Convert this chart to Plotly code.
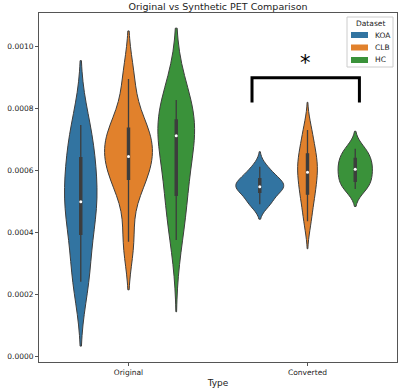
import numpy as np
import plotly.graph_objects as go

# ---------------- data ----------------
categories = ["Original", "Converted"]
datasets = ["KOA", "CLB", "HC"]
palette = ["#3274a1", "#e1812c", "#3a923a"]

original_koa = [0.000240, 0.000285, 0.000429, 0.000470, 0.000499, 0.000560, 0.000625, 0.000690, 0.000747]
original_clb = [0.000369, 0.000545, 0.000580, 0.000640, 0.000645, 0.000690, 0.000734, 0.000745, 0.000896]
original_hc = [0.000375, 0.000470, 0.000500, 0.000526, 0.000620, 0.000690, 0.000712, 0.000730,
               0.000745, 0.000751, 0.000800, 0.000815, 0.000828]
converted_koa = [0.000491, 0.000496, 0.000505, 0.000537, 0.000541, 0.000545, 0.000547, 0.000551,
                 0.000556, 0.000571, 0.000580, 0.000594, 0.000612]
converted_clb = [0.000436, 0.000500, 0.000531, 0.000570, 0.000594, 0.000620, 0.000645, 0.000680, 0.000731]
converted_hc = [0.000540, 0.000552, 0.000569, 0.000588, 0.000604, 0.000618, 0.000634, 0.000655, 0.000670]

# kernel bandwidths (seaborn scott rule)
bandwidth_original = [0.000104, 0.0000775, 0.000116]
bandwidth_converted = [0.0000243, 0.0000446, 0.0000283]

values = {
    "Original": [original_koa, original_clb, original_hc],
    "Converted": [converted_koa, converted_clb, converted_hc],
}
bandwidths = {"Original": bandwidth_original, "Converted": bandwidth_converted}

y_ticks = [0.0, 0.0002, 0.0004, 0.0006, 0.0008, 0.0010]
y_range = [-0.0000194, 0.001109]

# significance bracket
bracket_x = [0.69, 0.69, 1.29, 1.29]
bracket_y = [0.00082, 0.0009, 0.0009, 0.00082]
star_x = 0.99
star_y = 0.000948

# ---------------- figure ----------------
W, H = 400, 391
ML, MR, MT, MB = 39, 3, 13, 29
PW, PH = W - ML - MR, H - MT - MB
VIOLIN_GAP = 0.2
DARK = "#3d3d3d"
FONT = "DejaVu Sans"
TXT = "#222222"


def px2x(px):
    return (px - ML) / PW


def py2y(py):
    return (H - MB - py) / PH


fig = go.Figure()
group_w = (1 - VIOLIN_GAP) / len(datasets)

for i, cat in enumerate(categories):
    for j, ds in enumerate(datasets):
        vals = values[cat][j]
        fig.add_trace(go.Violin(
            x=[i] * len(vals), y=vals, name=ds,
            legendgroup=ds, showlegend=False,
            offsetgroup=ds, alignmentgroup="v",
            scalegroup=cat, scalemode="width",
            bandwidth=bandwidths[cat][j], spanmode="soft",
            fillcolor=palette[j], line=dict(color=DARK, width=1),
            points=False,
            box=dict(visible=True, width=0.045, fillcolor=DARK,
                     line=dict(color=DARK, width=1.3)),
            meanline=dict(visible=False),
            hoveron="violins",
        ))

# white median dots
for i, cat in enumerate(categories):
    xs = [i + (j - 1) * group_w for j in range(len(datasets))]
    ys = [float(np.median(v)) for v in values[cat]]
    fig.add_trace(go.Scatter(x=xs, y=ys, mode="markers", showlegend=False,
                             marker=dict(color="white", size=3), hoverinfo="skip"))

fig.add_trace(go.Scatter(x=bracket_x, y=bracket_y, mode="lines", showlegend=False,
                         line=dict(color="black", width=3), hoverinfo="skip"))
fig.add_annotation(x=star_x, y=star_y, text="*", showarrow=False,
                   font=dict(size=21, color="black", family=FONT),
                   xanchor="center", yanchor="middle")

# legend (matplotlib-style box with patches)
shapes = [dict(type="rect", xref="paper", yref="paper",
               x0=px2x(347), x1=px2x(393), y0=py2y(67), y1=py2y(17),
               line=dict(color="#cccccc", width=1), fillcolor="white", layer="above")]
annotations = [dict(xref="paper", yref="paper", x=px2x(370), y=py2y(23.5), text="Dataset",
                    showarrow=False, xanchor="center", yanchor="middle",
                    font=dict(size=7.5, color=TXT, family=FONT))]
for j, ds in enumerate(datasets):
    cy = 35 + j * 12.5
    shapes.append(dict(type="rect", xref="paper", yref="paper",
                       x0=px2x(351), x1=px2x(368), y0=py2y(cy + 3), y1=py2y(cy - 3),
                       line=dict(width=0), fillcolor=palette[j], layer="above"))
    annotations.append(dict(xref="paper", yref="paper", x=px2x(372.5), y=py2y(cy), text=ds,
                            showarrow=False, xanchor="left", yanchor="middle",
                            font=dict(size=7.5, color=TXT, family=FONT)))
for s in shapes:
    fig.add_shape(**s)
for a in annotations:
    fig.add_annotation(**a)

fig.update_layout(
    width=W, height=H,
    margin=dict(l=ML, r=MR, t=MT, b=MB),
    paper_bgcolor="white", plot_bgcolor="white",
    violinmode="group", violingap=VIOLIN_GAP, violingroupgap=0,
    font=dict(family=FONT, size=7.5, color=TXT),
    title=dict(text="Original vs Synthetic PET Comparison", x=0.5, xref="paper",
               y=1 - 6.5 / H, yref="container", yanchor="middle",
               font=dict(size=9.5, color=TXT)),
    showlegend=False,
)
fig.update_xaxes(range=[-0.5, 1.5], tickvals=[0, 1], ticktext=categories,
                 showgrid=False, zeroline=False, showline=True, mirror=True,
                 linecolor="#555555", linewidth=1, ticks="outside", ticklen=3,
                 tickcolor="#555555", title=dict(text="Type", standoff=3))
fig.update_yaxes(range=y_range, tickvals=y_ticks, tickformat=".4f",
                 showgrid=False, zeroline=False, showline=True, mirror=True,
                 linecolor="#555555", linewidth=1, ticks="outside", ticklen=3,
                 tickcolor="#555555")

fig.write_html("out.html", config={"displayModeBar": False},
               post_script="document.body.style.margin='0';")
